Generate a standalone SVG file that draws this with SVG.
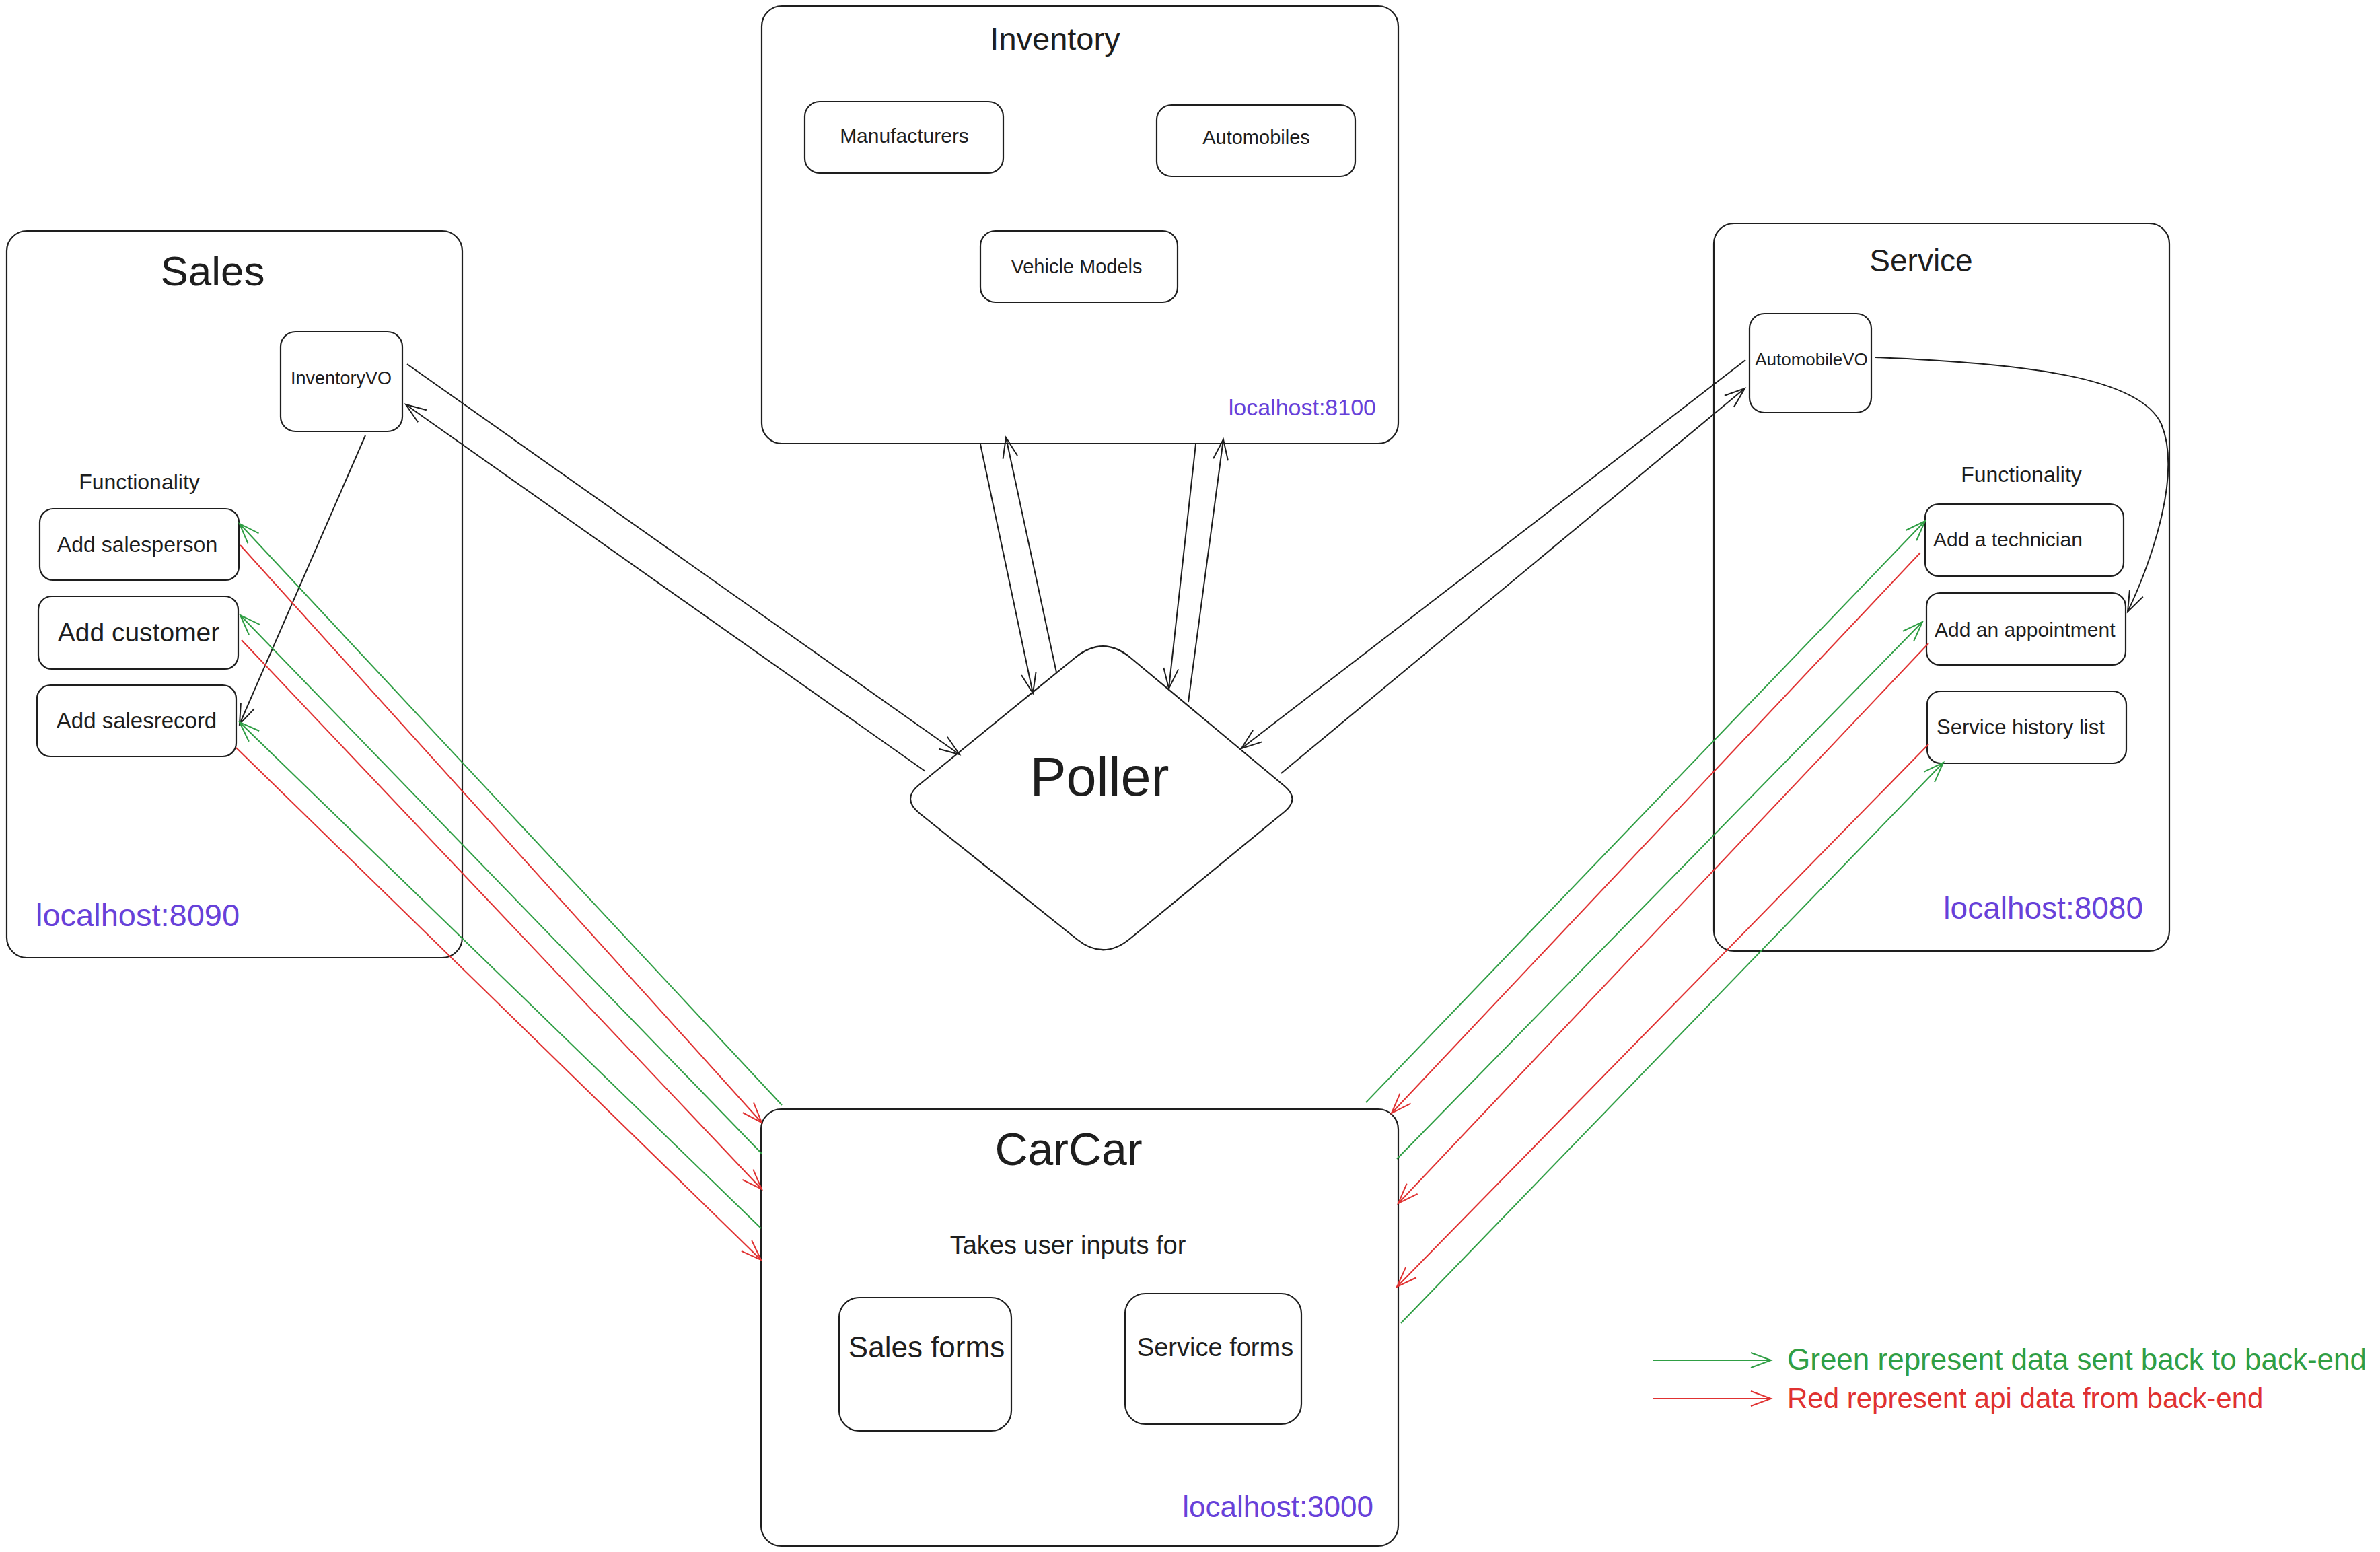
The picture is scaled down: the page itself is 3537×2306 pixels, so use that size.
<svg xmlns="http://www.w3.org/2000/svg" width="3537" height="2306" viewBox="0 0 3537 2306">
<style>
.box{fill:#ffffff;stroke:#1e1e1e;stroke-width:2.2}
.t{font-family:"Liberation Sans","Noto Sans",sans-serif;fill:#1e1e1e}
.host{font-family:"Liberation Sans","Noto Sans",sans-serif;fill:#6741d9}
.k{fill:none;stroke:#1e1e1e;stroke-width:2}
.g{fill:none;stroke:#2f9e44;stroke-width:2}
.r{fill:none;stroke:#e03131;stroke-width:2}
</style>
<defs>
<marker id="ak" viewBox="-40 -20 50 40" refX="0" refY="0" markerWidth="50" markerHeight="40" markerUnits="userSpaceOnUse" orient="auto"><path d="M-30,-11 L0,0 L-30,11" fill="none" stroke="#1e1e1e" stroke-width="2"/></marker>
<marker id="ag" viewBox="-40 -20 50 40" refX="0" refY="0" markerWidth="50" markerHeight="40" markerUnits="userSpaceOnUse" orient="auto"><path d="M-30,-11 L0,0 L-30,11" fill="none" stroke="#2f9e44" stroke-width="2"/></marker>
<marker id="ar" viewBox="-40 -20 50 40" refX="0" refY="0" markerWidth="50" markerHeight="40" markerUnits="userSpaceOnUse" orient="auto"><path d="M-30,-11 L0,0 L-30,11" fill="none" stroke="#e03131" stroke-width="2"/></marker>
</defs>
<rect width="3537" height="2306" fill="#ffffff"/>

<g id="sales">
<rect class="box" x="10" y="343" width="677" height="1080" rx="30"/>
<text class="t" x="316" y="424" font-size="62" text-anchor="middle">Sales</text>
<text class="t" x="207" y="727" font-size="32" text-anchor="middle">Functionality</text>
<text class="host" x="53" y="1376" font-size="47">localhost:8090</text>
</g>
<g id="inventoryvo">
<rect class="box" x="417" y="493" width="181" height="148" rx="22"/>
<text class="t" x="507" y="571" font-size="27" text-anchor="middle">InventoryVO</text>
</g>
<g id="add-salesperson">
<rect class="box" x="59" y="756" width="296" height="106" rx="20"/>
<text class="t" x="204" y="820" font-size="32" text-anchor="middle">Add salesperson</text>
</g>
<g id="add-customer">
<rect class="box" x="57" y="886" width="297" height="108" rx="20"/>
<text class="t" x="206" y="953" font-size="39" text-anchor="middle">Add customer</text>
</g>
<g id="add-salesrecord">
<rect class="box" x="55" y="1018" width="296" height="106" rx="20"/>
<text class="t" x="203" y="1082" font-size="33" text-anchor="middle">Add salesrecord</text>
</g>

<g id="inventory">
<rect class="box" x="1132" y="9" width="946" height="650" rx="30"/>
<text class="t" x="1568" y="74" font-size="47" text-anchor="middle">Inventory</text>
<text class="host" x="2045" y="617" font-size="34" text-anchor="end">localhost:8100</text>
</g>
<g id="manufacturers">
<rect class="box" x="1196" y="151" width="295" height="106" rx="22"/>
<text class="t" x="1344" y="212" font-size="30" text-anchor="middle">Manufacturers</text>
</g>
<g id="automobiles">
<rect class="box" x="1719" y="156" width="295" height="106" rx="22"/>
<text class="t" x="1867" y="214" font-size="29" text-anchor="middle">Automobiles</text>
</g>
<g id="vehicle-models">
<rect class="box" x="1457" y="343" width="293" height="106" rx="22"/>
<text class="t" x="1600" y="406" font-size="29" text-anchor="middle">Vehicle Models</text>
</g>

<g id="service">
<rect class="box" x="2547" y="332" width="677" height="1081" rx="30"/>
<text class="t" x="2855" y="403" font-size="46" text-anchor="middle">Service</text>
<text class="t" x="3004" y="716" font-size="32" text-anchor="middle">Functionality</text>
<text class="host" x="3185" y="1365" font-size="46" text-anchor="end">localhost:8080</text>
</g>
<g id="automobilevo">
<rect class="box" x="2600" y="466" width="181" height="147" rx="22"/>
<text class="t" x="2692" y="543" font-size="26" text-anchor="middle">AutomobileVO</text>
</g>
<g id="add-technician">
<rect class="box" x="2861" y="749" width="295" height="107" rx="20"/>
<text class="t" x="2873" y="812" font-size="30">Add a technician</text>
</g>
<g id="add-appointment">
<rect class="box" x="2863" y="881" width="296" height="107" rx="20"/>
<text class="t" x="2875" y="946" font-size="30">Add an appointment</text>
</g>
<g id="service-history">
<rect class="box" x="2864" y="1027" width="296" height="107" rx="20"/>
<text class="t" x="2878" y="1091" font-size="31">Service history list</text>
</g>

<g id="poller">
<path class="box" d="M1598,977 Q1640,943 1681,978 L1909,1168 Q1932,1187 1909,1206 L1679,1395 Q1640,1427 1601,1396 L1366,1208 Q1340,1187 1366,1166 Z"/>
<text class="t" x="1634" y="1182" font-size="81" text-anchor="middle">Poller</text>
</g>

<g id="carcar">
<rect class="box" x="1131" y="1648" width="947" height="649" rx="30"/>
<text class="t" x="1588" y="1731" font-size="68" text-anchor="middle">CarCar</text>
<text class="t" x="1587" y="1863" font-size="38" text-anchor="middle">Takes user inputs for</text>
<text class="host" x="2041" y="2254" font-size="44" text-anchor="end">localhost:3000</text>
</g>
<g id="sales-forms">
<rect class="box" x="1247" y="1928" width="256" height="198" rx="30"/>
<text class="t" x="1377" y="2017" font-size="44" text-anchor="middle">Sales forms</text>
</g>
<g id="service-forms">
<rect class="box" x="1672" y="1922" width="262" height="194" rx="30"/>
<text class="t" x="1806" y="2015" font-size="38" text-anchor="middle">Service forms</text>
</g>

<g id="connectors">
<line class="k" x1="605" y1="541" x2="1426" y2="1121" marker-end="url(#ak)"/>
<line class="k" x1="1375" y1="1146" x2="603" y2="601" marker-end="url(#ak)"/>
<line class="k" x1="543" y1="647" x2="356" y2="1076" marker-end="url(#ak)"/>
<line class="k" x1="1457" y1="660" x2="1535" y2="1030" marker-end="url(#ak)"/>
<line class="k" x1="1570" y1="999" x2="1495" y2="650" marker-end="url(#ak)"/>
<line class="k" x1="1777" y1="660" x2="1737" y2="1023" marker-end="url(#ak)"/>
<line class="k" x1="1766" y1="1043" x2="1818" y2="653" marker-end="url(#ak)"/>
<line class="k" x1="2594" y1="535" x2="1845" y2="1112" marker-end="url(#ak)"/>
<line class="k" x1="1904" y1="1149" x2="2593" y2="577" marker-end="url(#ak)"/>
<path class="k" d="M2787,531 C3010,540 3180,560 3212,630 C3245,710 3190,850 3162,909" marker-end="url(#ak)"/>

<line class="g" x1="1162" y1="1642" x2="356" y2="778" marker-end="url(#ag)"/>
<line class="g" x1="1132" y1="1714" x2="357" y2="914" marker-end="url(#ag)"/>
<line class="g" x1="1131" y1="1825" x2="356" y2="1073" marker-end="url(#ag)"/>
<line class="r" x1="357" y1="810" x2="1132" y2="1668" marker-end="url(#ar)"/>
<line class="r" x1="359" y1="951" x2="1132" y2="1767" marker-end="url(#ar)"/>
<line class="r" x1="351" y1="1111" x2="1131" y2="1872" marker-end="url(#ar)"/>

<line class="g" x1="2030" y1="1638" x2="2861" y2="774" marker-end="url(#ag)"/>
<line class="g" x1="2076" y1="1722" x2="2857" y2="924" marker-end="url(#ag)"/>
<line class="g" x1="2082" y1="1966" x2="2888" y2="1133" marker-end="url(#ag)"/>
<line class="r" x1="2854" y1="821" x2="2068" y2="1654" marker-end="url(#ar)"/>
<line class="r" x1="2866" y1="956" x2="2078" y2="1788" marker-end="url(#ar)"/>
<line class="r" x1="2866" y1="1106" x2="2076" y2="1912" marker-end="url(#ar)"/>

<line class="g" x1="2456" y1="2021" x2="2632" y2="2021" marker-end="url(#ag)"/>
<line class="r" x1="2456" y1="2078" x2="2632" y2="2078" marker-end="url(#ar)"/>
</g>

<g id="legend">
<text x="2656" y="2035" font-family="Liberation Sans, Noto Sans, sans-serif" font-size="44" fill="#2f9e44">Green represent data sent back to back-end</text>
<text x="2656" y="2092" font-family="Liberation Sans, Noto Sans, sans-serif" font-size="42" fill="#e03131">Red represent api data from back-end</text>
</g>
</svg>
